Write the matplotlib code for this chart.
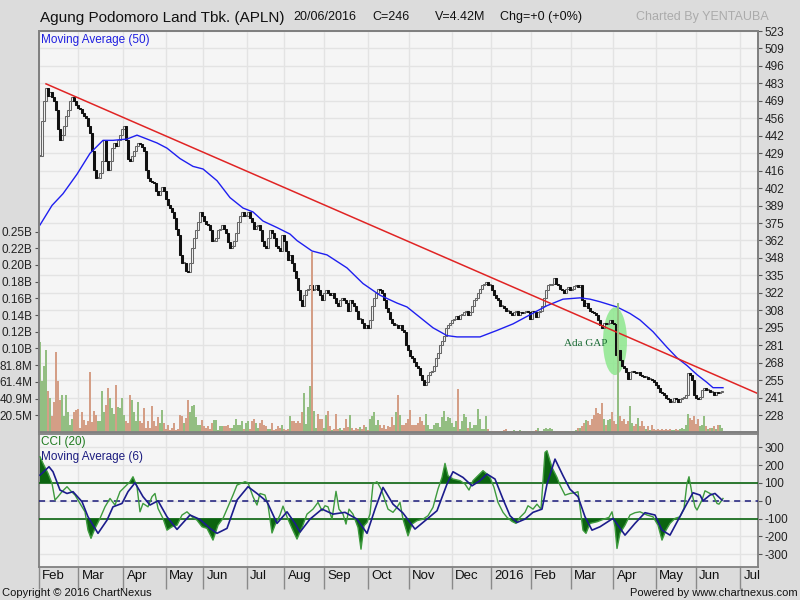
import numpy as np
import matplotlib
matplotlib.use('Agg')
import matplotlib.pyplot as plt
from matplotlib.patches import Ellipse
from matplotlib.transforms import blended_transform_factory

plt.rcParams['font.family'] = ['Liberation Sans', 'DejaVu Sans']

# ---------------- data (trading-day index on x) ----------------
close = [
    427, 454, 469, 479, 473, 476, 472, 469, 462, 448,
    439, 443, 450, 458, 462, 469, 472, 469, 466, 464,
    463, 460, 458, 456, 450, 445, 431, 416, 410, 410,
    414, 423, 439, 423, 416, 423, 433, 437, 435, 439,
    443, 448, 450, 439, 425, 423, 427, 431, 435, 437,
    436, 434, 431, 416, 410, 408, 407, 406, 400, 397,
    400, 403, 400, 394, 389, 387, 384, 379, 371, 366,
    351, 345, 345, 339, 338, 345, 356, 364, 370, 376,
    384, 381, 377, 375, 374, 370, 362, 362, 364, 370,
    371, 374, 371, 368, 361, 356, 358, 362, 368, 376,
    381, 384, 381, 381, 384, 379, 376, 371, 373, 374,
    370, 362, 358, 356, 364, 370, 368, 364, 358, 356,
    354, 366, 362, 354, 347, 351, 345, 339, 333, 324,
    316, 312, 320, 324, 325, 328, 324, 325, 328, 324,
    320, 316, 322, 324, 322, 320, 322, 318, 314, 312,
    316, 318, 316, 314, 308, 316, 314, 312, 308, 302,
    302, 299, 295, 297, 295, 301, 312, 318, 322, 325,
    324, 322, 316, 310, 307, 302, 299, 297, 297, 295,
    297, 293, 292, 282, 278, 273, 272, 269, 266, 264,
    259, 255, 251, 253, 259, 261, 262, 266, 272, 276,
    282, 285, 289, 295, 297, 299, 301, 302, 304, 302,
    305, 305, 307, 308, 305, 307, 312, 316, 318, 322,
    325, 328, 329, 330, 328, 328, 324, 320, 318, 316,
    312, 312, 310, 308, 308, 306, 305, 307, 308, 305,
    307, 306, 307, 308, 307, 302, 308, 307, 303, 307,
    308, 312, 318, 324, 328, 328, 329, 333, 329, 328,
    325, 324, 322, 325, 326, 324, 325, 327, 328, 326,
    328, 316, 312, 314, 310, 308, 307, 306, 305, 301,
    297, 295, 299, 298, 299, 301, 299, 298, 274, 278,
    270, 266, 264, 261, 256, 261, 262, 261, 260, 261,
    259, 258, 257, 257, 256, 256, 255, 253, 251, 249,
    246, 245, 243, 241, 240, 238, 238, 241, 240, 238,
    240, 241, 241, 243, 260, 259, 255, 243, 241, 240,
    242, 247, 249, 247, 247, 246, 246, 243, 246, 245,
    246, 246,
]

volume_m = [
    110, 62, 81, 100, 50, 42, 19, 37, 98, 62, 39, 45, 20, 45, 24, 8, 16, 24, 27, 28,
    5, 24, 15, 8, 13, 74, 12, 26, 21, 14, 13,
    50, 25, 33, 54, 42, 29, 22, 58, 30, 29, 42, 21, 13, 11, 45, 39, 24, 13, 37, 13,
    11, 29, 5, 13, 5, 32, 13, 7, 18, 11, 27, 11, 4, 9, 2, 5, 11, 2, 4, 21,
    19, 11, 17, 39, 25, 32, 33, 18, 9, 8, 15, 7, 5, 7, 4, 11, 15, 15, 2, 7,
    7, 7, 7, 9, 5, 5, 9, 16, 8, 9, 14, 4, 11, 13, 4, 13, 16, 11, 5, 11,
    15, 9, 7, 4, 4, 11, 2, 4, 7, 5, 9, 4, 2,
    4, 19, 13, 13, 11, 13, 11, 25, 48, 10, 30, 56, 220, 26, 5, 22, 16, 16, 5, 21, 26,
    7, 2, 4, 22, 4, 5, 2, 5, 16, 6, 21, 5, 2, 5, 4, 6, 4, 9, 6, 2,
    16, 19, 24, 8, 15, 8, 5, 9, 4, 7, 6, 18, 9, 24, 45, 21, 9, 9, 11, 16,
    27, 8, 9, 9, 11, 18, 13, 8, 22, 8, 4, 4, 9, 11, 11, 6, 18, 26, 13, 18,
    17, 11, 6, 13, 53, 4, 13, 22, 18, 5, 12, 5, 8, 9, 28, 16, 4, 4, 20, 4,
    1, 1, 1, 1, 1, 1, 1, 2, 4, 1, 1, 1, 2, 1, 1, 2, 1, 1, 1, 1,
    1, 1, 1, 2, 5, 1, 1,
    4, 5, 4, 5, 4, 1, 1, 1, 1, 1, 1, 1, 1, 1, 1, 1,
    3, 5, 5, 7, 11, 15, 14, 9, 16, 21, 29, 23, 22, 36, 16, 9, 15, 16, 25, 13,
    10, 158, 19, 13, 16, 10, 13, 32, 11, 7, 10, 17, 7, 13, 7, 4, 7, 2, 9, 4,
    3, 4, 3, 4, 3, 4, 3, 4, 2, 3, 4, 3, 4, 5, 4, 9, 22, 17, 15, 19,
    10, 16, 7, 9, 20, 7, 4, 5, 5, 7, 4, 9, 9, 5,
]

ma50_x = [0, 6, 11.5, 18.5, 25, 31.5, 36.5, 43.5, 48.5, 53.5,
          58.5, 63.5, 70, 76.5, 81.5, 88.5, 95, 101.5, 106.5, 111.5,
          118.5, 125, 128.5, 136, 143.5, 153.5, 161.5, 170, 178.5, 183.5,
          190, 196.5, 203.5, 208.5, 220, 228.5, 236.5, 245, 253.5, 261.5,
          270, 275, 280, 288.5, 295, 300, 306.5, 313.5, 318.5, 323.5,
          328.5, 333.5, 336.5, 341.5]
ma50_y = [374, 389, 398, 413, 429, 439, 439, 440, 443, 440,
          437, 433, 425, 419, 417, 408, 395, 387, 384, 377,
          372, 367, 362, 354, 351, 341, 329, 320, 314, 311,
          303, 295, 289, 288, 288, 293, 298, 305, 312, 317,
          318, 317, 315, 311, 306, 301, 292, 280, 272, 266,
          259, 253, 249, 249]

cci_x = [0, 1.5, 4, 6, 7.5, 9, 11, 13.5, 15, 17.5,
         20, 22.5, 24, 25.5, 27.5, 30, 32.5, 35, 37.5, 40,
         42.5, 45, 46.5, 48.5, 50, 51.5, 54, 56, 57.5, 59,
         61.5, 63.5, 66, 68.5, 71, 73.5, 76, 78.5, 81, 83.5,
         86.5, 89, 91.5, 94, 96.5, 98.5, 100.5, 102.5, 104, 106.5,
         108.5, 110, 112.5, 114, 116, 117.5, 120, 121.5, 123.5, 126,
         128.5, 131, 133.5, 136.5, 139, 141, 142.5, 144, 146, 148,
         149.5, 151.5, 153, 154.5, 156.5, 159, 160.5, 162, 163.5, 165,
         166.5, 168.5, 170.5, 172, 174, 176.5, 178.5, 180, 181.5, 184,
         186, 188.5, 191.5, 194, 196.5, 199, 201, 202.5, 204, 206.5,
         210, 212.5, 214.5, 216.5, 219, 221.5, 223.5, 225, 227, 229,
         231.5, 233.5, 236, 238, 240, 242.5, 244, 246.5, 248.5, 250.5,
         252.5, 253.5, 256, 258.5, 260, 262.5, 265, 267.5, 269, 270.5,
         271.5, 273, 275, 278.5, 281.5, 284.5, 286, 287.5, 288.5, 290,
         292.5, 295, 297.5, 300, 303.5, 306.5, 309, 311, 313, 315,
         317.5, 320, 322, 323.5, 324.5, 326, 327.5, 328.5, 331, 332.5,
         335, 336.5, 338.5, 339.5, 341.5]
cci_y = [247, 210, 154, 98, 4, 23, 51, 79, 60, 32,
         -15, -62, -165, -211, -155, -99, -34, 13, -24, 51,
         79, 107, 135, 79, -62, -15, -34, 23, 41, -43,
         -99, -165, -146, -137, -80, -62, -90, -109, -146, -155,
         -221, -137, -99, -34, 32, 88, 98, 107, 101, 23,
         -24, 41, 32, -24, -181, -137, -80, -30, -90, -155,
         -215, -150, -75, -47, -9, -56, -28, -34, -103, 53,
         -47, -75, -131, -47, -75, -150, -272, -140, -122, -75,
         94, 107, 66, 19, -47, -65, -37, -9, -103, -197,
         -131, -112, -103, -84, -37, 66, 131, 210, 141, 122,
         113, 94, 60, 113, 141, 169, 150, 131, 75, -9,
         -65, -93, -116, -127, -93, -65, -28, -47, -19, -47,
         272, 281, 187, 131, 88, 32, 41, 45, 51, -80,
         -165, -183, -127, -118, -105, -93, -62, -146, -268, -183,
         -137, -80, -67, -62, -80, -90, -137, -221, -165, -127,
         -99, -90, -43, 98, 135, 41, -34, -52, 4, 56,
         41, 32, -15, -19, 13]

cci_ma_x = [0, 4.5, 6.5, 10, 13.5, 16.5, 21, 24, 29, 33.5,
            36.5, 41, 44, 47.5, 51.5, 55, 59, 63.5, 68.5, 75,
            80, 85, 88.5, 93.5, 98.5, 104, 108.5, 113.5, 118.5, 123.5,
            127.5, 130, 135, 141, 146.5, 152.5, 158.5, 163.5, 167.5, 171.5,
            176.5, 181.5, 187.5, 193.5, 198.5, 203.5, 206.5, 211.5, 216, 220,
            223.5, 227.5, 231.5, 235, 238.5, 242.5, 246.5, 251, 253.5, 257.5,
            261.5, 265, 269, 272.5, 276, 280, 286.5, 292.5, 297.5, 302.5,
            307.5, 311, 315, 319, 323.5, 326.5, 330, 331.5, 335, 337.5,
            341]
cci_ma_y = [144, 191, 163, 60, 41, 51, -5, -90, -183, -109,
            -34, -15, 51, 101, 23, -24, 0, -90, -161, -80,
            -105, -155, -183, -155, 4, 79, 41, -5, -127, -62,
            -127, -176, -103, -47, -75, -65, -103, -183, -47, 75,
            -19, -69, -159, -103, -56, 94, 163, 131, 84, 113,
            150, 122, 9, -84, -122, -103, -65, -47, 94, 234,
            141, 65, 23, -90, -165, -146, -99, -193, -127, -67,
            -80, -165, -193, -109, -15, 45, 32, 0, 32, 41,
            4]

trend_x = [3, 359.5]
trend_y = [482.4, 244.1]

gap_center = (287.5, 284.7)
gap_size = (12, 52)
gap_label_pos = (262, 282.6)

month_pos = [-0.5, 19.2, 41.7, 62.8, 81.7, 103.3, 122.2, 142.2, 164, 184.5,
             206, 225.5, 245.3, 265.3, 286.7, 307.8, 327.8, 350.2]
month_labels = ['Feb', 'Mar', 'Apr', 'May', 'Jun', 'Jul', 'Aug', 'Sep', 'Oct', 'Nov',
                'Dec', '2016', 'Feb', 'Mar', 'Apr', 'May', 'Jun', 'Jul']

price_labels = [523, 509, 496, 483, 469, 456, 442, 429, 416, 402, 389, 375,
                362, 348, 335, 322, 308, 295, 281, 268, 255, 241, 228]
vol_step_m = 20.45
vol_labels = ['20.5M', '40.9M', '61.4M', '81.8M', '0.10B', '0.12B',
              '0.14B', '0.16B', '0.18B', '0.20B', '0.22B', '0.25B']
cci_ticks = [300, 200, 100, 0, -100, -200, -300]

# ---------------- figure ----------------
W, H = 800, 600
fig = plt.figure(figsize=(8, 6), dpi=100, facecolor='#DCDCDC')


def frect(l, t, r, b):
    return [l / W, 1 - b / H, (r - l) / W, (b - t) / H]


BG = '#F5F5F5'
GRID = '#E3E3E3'
SPINE = '#808080'

ax = fig.add_axes(frect(39, 31, 758, 432))
ax2 = fig.add_axes(frect(39, 434, 758, 567))
axv = ax.twinx()

xlim = (-0.5, 359)
close_a = np.array(close, dtype=float)
n = len(close_a)
x = np.arange(n)
opens = np.r_[close_a[0], close_a[:-1]]
up = close_a >= opens

# ---- price panel (right axis) ----
ax.set_facecolor(BG)
ax.set_xlim(*xlim)
ax.set_ylim(214.95, 522.23)
ax.set_xticks(month_pos)
ax.tick_params(axis='x', length=0, labelbottom=False)
ax.yaxis.set_ticks_position('right')
ax.yaxis.set_label_position('right')
price_pos = np.linspace(523, 228, len(price_labels))
ax.set_yticks(price_pos)
ax.set_yticklabels([str(v) for v in price_labels])
ax.tick_params(axis='y', which='both', left=False, labelleft=False, right=True,
               labelright=True, labelsize=8.5, length=3, pad=1.5, color='#555555',
               labelcolor='#222222')
ax.grid(True, color=GRID, lw=1)
ax.set_axisbelow(True)
for s in ax.spines.values():
    s.set_color(SPINE)
    s.set_linewidth(1.3)

# gap highlight
ax.add_patch(Ellipse(gap_center, gap_size[0], gap_size[1], facecolor='#8EE88E',
                     edgecolor='none', alpha=0.85, zorder=2))
ax.text(gap_label_pos[0], gap_label_pos[1], 'Ada GAP',
        family=['Liberation Serif', 'DejaVu Serif'],
        fontsize=8, color='#1B6B35', ha='left', va='center', zorder=5)

# candles
body_bot = np.minimum(opens, close_a)
body_h = np.maximum(np.abs(close_a - opens), 0.8)
ax.bar(x[up], body_h[up], bottom=body_bot[up], width=1.25, facecolor='#F4F4F4',
       edgecolor='#666666', linewidth=0.75, zorder=3)
ax.bar(x[~up], body_h[~up], bottom=body_bot[~up], width=1.25, facecolor='#111111',
       edgecolor='#111111', linewidth=0.75, zorder=3)

# moving average and trendline
ax.plot(ma50_x, ma50_y, color='#1F1FF0', lw=1.0, zorder=4)
ax.plot(trend_x, trend_y, color='#E02424', lw=1.1, zorder=4)

# ---- volume (left axis) ----
axv.set_xlim(*xlim)
axv.set_ylim(0, 491)
vol_colors = np.where(up, '#93BE82', '#D49E86')
axv.bar(x, volume_m, width=0.55, color=vol_colors, linewidth=0, zorder=1)
axv.yaxis.set_ticks_position('left')
axv.yaxis.set_label_position('left')
axv.set_yticks([vol_step_m * (k + 1) for k in range(len(vol_labels))])
axv.set_yticklabels(vol_labels)
axv.tick_params(axis='y', which='both', right=False, labelright=False, left=True,
                labelleft=True, labelsize=8.5, length=3, pad=1.5, color='#555555',
                labelcolor='#222222')
for s in axv.spines.values():
    s.set_color(SPINE)
    s.set_linewidth(1.3)

# ---- CCI panel ----
ax2.set_facecolor(BG)
ax2.set_xlim(*xlim)
ax2.set_ylim(-372, 375)
ax2.yaxis.set_ticks_position('right')
ax2.set_yticks(cci_ticks)
ax2.set_yticklabels([str(v) for v in cci_ticks])
ax2.tick_params(axis='y', labelsize=8.5, length=3, pad=1.5, color='#555555',
                labelcolor='#222222')
ax2.set_xticks(month_pos)
ax2.tick_params(axis='x', length=16, width=1, color='#8A8A8A', direction='out',
                labelbottom=False)
ax2.grid(True, color=GRID, lw=1)
ax2.set_axisbelow(True)
for s in ax2.spines.values():
    s.set_color(SPINE)
    s.set_linewidth(1.3)

cx = np.array(cci_x, dtype=float)
cy = np.array(cci_y, dtype=float)
ax2.fill_between(cx, cy, 100, where=cy > 100, interpolate=True, color='#0B6410',
                 linewidth=0, zorder=2)
ax2.fill_between(cx, cy, -100, where=cy < -100, interpolate=True, color='#0B6410',
                 linewidth=0, zorder=2)
ax2.axhline(100, color='#0B6410', lw=1.2, zorder=3)
ax2.axhline(-100, color='#0B6410', lw=1.2, zorder=3)
ax2.axhline(0, color='#1A1A7A', lw=1.1, ls=(0, (4, 3)), zorder=3)
ax2.plot(cx, cy, color='#3D9A3D', lw=1.0, zorder=4)
ax2.plot(cci_ma_x, cci_ma_y, color='#1C1C8C', lw=1.2, zorder=5)

trans = blended_transform_factory(ax2.transData, ax2.transAxes)
for p, lab in zip(month_pos, month_labels):
    ax2.text(p + 1.6, -0.068, lab, transform=trans, ha='left', va='center',
             fontsize=9.5, color='#111111')

# ---- header / labels ----
fig.text(40 / W, 1 - 18 / H, 'Agung Podomoro Land Tbk. (APLN)', fontsize=11,
         color='#111111', va='center', ha='left')
fig.text(293 / W, 1 - 17 / H, '20/06/2016', fontsize=9, color='#111111', va='center')
fig.text(372 / W, 1 - 17 / H, 'C=246', fontsize=9, color='#111111', va='center')
fig.text(435 / W, 1 - 17 / H, 'V=4.42M', fontsize=9, color='#111111', va='center')
fig.text(500 / W, 1 - 17 / H, 'Chg=+0 (+0%)', fontsize=9, color='#111111', va='center')
fig.text(636 / W, 1 - 17 / H, 'Charted By YENTAUBA', fontsize=9, color='#ABABAB', va='center')

fig.text(41 / W, 1 - 40 / H, 'Moving Average (50)', fontsize=8.5, color='#1F1FE0', va='center')
fig.text(41 / W, 1 - 442 / H, 'CCI (20)', fontsize=8.5, color='#1F7A1F', va='center')
fig.text(41 / W, 1 - 457 / H, 'Moving Average (6)', fontsize=8.5, color='#1C1C80', va='center')

fig.text(2 / W, 1 - 593 / H, 'Copyright \u00a9 2016 ChartNexus', fontsize=8,
         color='#111111', va='center', ha='left')
fig.text(798 / W, 1 - 593 / H, 'Powered by www.chartnexus.com', fontsize=8,
         color='#111111', va='center', ha='right')

fig.savefig('out.png', dpi=100, facecolor=fig.get_facecolor())
